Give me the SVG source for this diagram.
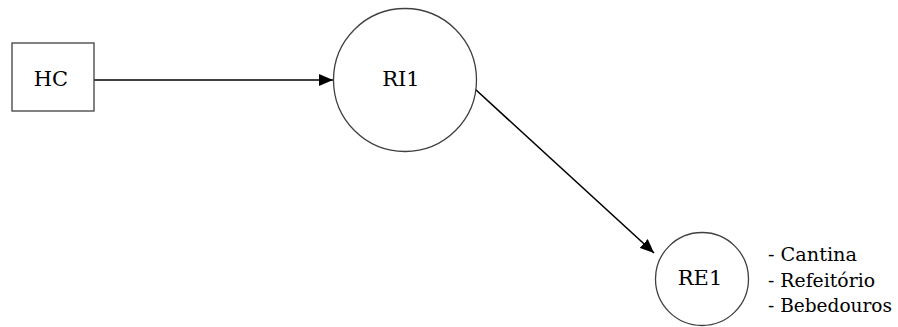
<svg xmlns="http://www.w3.org/2000/svg" width="898" height="327" viewBox="0 0 898 327">
<style>
.n{fill:#fff;stroke:#404040;stroke-width:1.3}
.c{stroke:#000;stroke-width:1.6;fill:none}
</style>
<defs>
<marker id="b" viewBox="0 0 14 12" refX="14" refY="6" markerWidth="14" markerHeight="12" markerUnits="userSpaceOnUse" orient="auto">
<path d="M0,0 L14,6 L0,12 z" fill="#000"/>
</marker>
</defs>
<g id="connectors">
<line class="c" x1="94" y1="80" x2="333" y2="80" marker-end="url(#b)"/>
<line class="c" x1="475" y1="89" x2="654" y2="253" marker-end="url(#b)"/>
</g>
<g font-family="'DejaVu Serif', serif" font-size="21" fill="#000" text-anchor="middle">
<g id="HC">
<rect class="n" x="12" y="43" width="82" height="68"/>
<text x="51" y="86">HC</text>
</g>
<g id="RI1">
<circle class="n" cx="405" cy="80" r="71.5"/>
<text x="401" y="86">RI1</text>
</g>
<g id="RE1">
<circle class="n" cx="702" cy="279" r="46.5"/>
<text x="700" y="285">RE1</text>
</g>
</g>
<g id="list" font-family="'DejaVu Serif', serif" font-size="18" fill="#000">
<text x="768" y="261" textLength="89" lengthAdjust="spacingAndGlyphs">- Cantina</text>
<text x="768" y="287" textLength="107" lengthAdjust="spacingAndGlyphs">- Refeitório</text>
<text x="768" y="312" textLength="124" lengthAdjust="spacingAndGlyphs">- Bebedouros</text>
</g>
</svg>
